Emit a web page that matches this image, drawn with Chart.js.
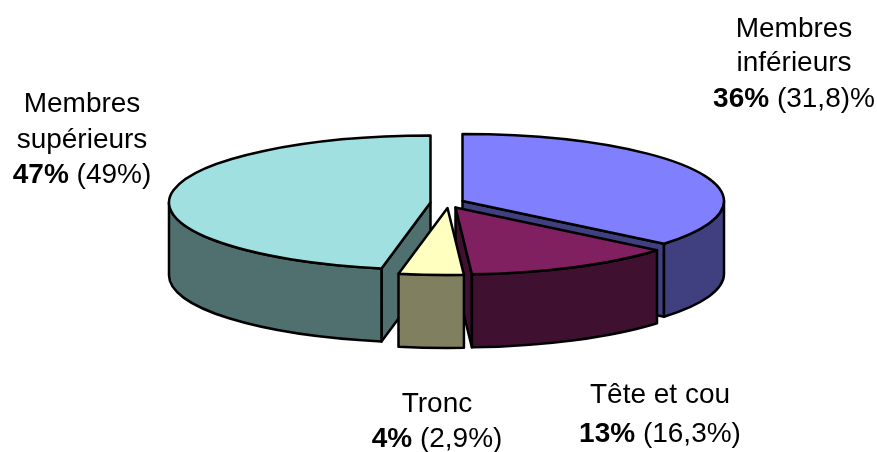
<!DOCTYPE html>
<html>
<head>
<meta charset="utf-8">
<style>
  html, body { margin: 0; padding: 0; background: #fff; }
  canvas { display: block; }
</style>
<script src="https://cdn.jsdelivr.net/npm/chart.js@4/dist/chart.umd.js"></script>
</head>
<body>
<canvas id="chart" width="877" height="452"></canvas>
<script>
// Slices run clockwise from twelve o'clock
const categories = ['Membres inférieurs', 'Tête et cou', 'Tronc', 'Membres supérieurs'];
const nameLines = [['Membres', 'inférieurs'], ['Tête et cou'], ['Tronc'], ['Membres', 'supérieurs']];
const values = [36, 13, 4, 47];
const previousValues = ['(31,8)%', '(16,3%)', '(2,9%)', '(49%)'];

const topColors = ['#8080FF', '#802060', '#FFFFC0', '#A0E0E0'];
const wallColors = ['#404080', '#401030', '#808060', '#507070'];

// Pie with an elliptical top and extruded walls. The chart area is the ellipse's bounding box.
class Pie3DController extends Chart.PieController {
  draw() {
    const { ctx, chartArea } = this.chart;
    const ds = this.getDataset();
    const rx = chartArea.width / 2;
    const ry = chartArea.height / 2;

    const slices = this.getMeta().data.map((arc, i) => ({
      i,
      a0: arc.startAngle,
      a1: arc.endAngle,
      mid: (arc.startAngle + arc.endAngle) / 2,
      x: arc.x + ds.explodeX[i],
      y: arc.y + ds.explodeY[i]
    }));
    // back slices first so the front ones paint over them
    slices.sort((p, q) => Math.sin(p.mid) - Math.sin(q.mid));

    ctx.save();
    ctx.lineWidth = ds.borderWidth;
    ctx.strokeStyle = ds.borderColor;
    ctx.lineJoin = 'round';
    for (const s of slices) {
      this.drawCut(ctx, s, s.a0, Math.cos(s.a0) < -1e-6, rx, ry, ds);
      this.drawCut(ctx, s, s.a1, Math.cos(s.a1) > 1e-6, rx, ry, ds);
      this.drawRim(ctx, s, rx, ry, ds);

      ctx.beginPath();
      ctx.moveTo(s.x, s.y);
      ctx.ellipse(s.x, s.y, rx, ry, 0, s.a0, s.a1);
      ctx.closePath();
      ctx.fillStyle = ds.backgroundColor[s.i];
      ctx.fill();
      ctx.stroke();
    }
    ctx.restore();
  }

  drawCut(ctx, s, angle, visible, rx, ry, ds) {
    if (!visible) return;
    const ex = s.x + Math.cos(angle) * rx;
    const ey = s.y + Math.sin(angle) * ry;
    ctx.beginPath();
    ctx.moveTo(s.x, s.y);
    ctx.lineTo(ex, ey);
    ctx.lineTo(ex, ey + ds.depth);
    ctx.lineTo(s.x, s.y + ds.depth);
    ctx.closePath();
    ctx.fillStyle = ds.wallColor[s.i];
    ctx.fill();
    ctx.stroke();
  }

  // only the part of the rim between 0 and PI faces the viewer
  drawRim(ctx, s, rx, ry, ds) {
    const from = Math.max(s.a0, 0);
    const to = Math.min(s.a1, Math.PI);
    if (to <= from) return;
    ctx.beginPath();
    ctx.ellipse(s.x, s.y, rx, ry, 0, from, to);
    ctx.ellipse(s.x, s.y + ds.depth, rx, ry, 0, to, from, true);
    ctx.closePath();
    ctx.fillStyle = ds.wallColor[s.i];
    ctx.fill();
    ctx.stroke();
  }
}
Pie3DController.id = 'pie3d';
Pie3DController.defaults = Chart.PieController.defaults;
Pie3DController.overrides = Chart.PieController.overrides;
Chart.register(Pie3DController);

// Slice captions: name lines, then the bold share with the earlier figure after it
const captions = {
  id: 'captions',
  afterDraw(chart, args, opts) {
    const { ctx } = chart;
    ctx.save();
    ctx.fillStyle = '#000';
    ctx.textBaseline = 'alphabetic';
    values.forEach((v, i) => {
      const spot = opts.spots[i];
      ctx.font = opts.font;
      ctx.textAlign = 'center';
      nameLines[i].forEach((line, k) => ctx.fillText(line, spot.x, spot.names[k]));

      const bold = v + '%';
      const rest = ' ' + previousValues[i];
      ctx.font = 'bold ' + opts.font;
      const bw = ctx.measureText(bold).width;
      ctx.font = opts.font;
      const rw = ctx.measureText(rest).width;
      const left = spot.x - (bw + rw) / 2;
      ctx.textAlign = 'left';
      ctx.font = 'bold ' + opts.font;
      ctx.fillText(bold, left, spot.value);
      ctx.font = opts.font;
      ctx.fillText(rest, left + bw, spot.value);
    });
    ctx.restore();
  }
};

new Chart(document.getElementById('chart'), {
  type: 'pie3d',
  data: {
    labels: categories,
    datasets: [{
      data: values,
      backgroundColor: topColors,
      wallColor: wallColors,
      borderColor: '#000',
      borderWidth: 2.5,
      depth: 73,
      explodeX: [16, 9, 1, -16],
      explodeY: [-2, 4.5, 5, -0.4]
    }]
  },
  options: {
    responsive: false,
    animation: false,
    layout: { padding: { left: 185, right: 169, top: 136, bottom: 182 } },
    plugins: {
      legend: { display: false },
      tooltip: { enabled: false },
      captions: {
        font: '28px "Liberation Sans", Arial, sans-serif',
        spots: [
          { x: 794, names: [37, 71], value: 107 },
          { x: 660, names: [403], value: 442 },
          { x: 437, names: [412], value: 447 },
          { x: 82, names: [112, 148], value: 183 }
        ]
      }
    }
  },
  plugins: [captions]
});
</script>
</body>
</html>
